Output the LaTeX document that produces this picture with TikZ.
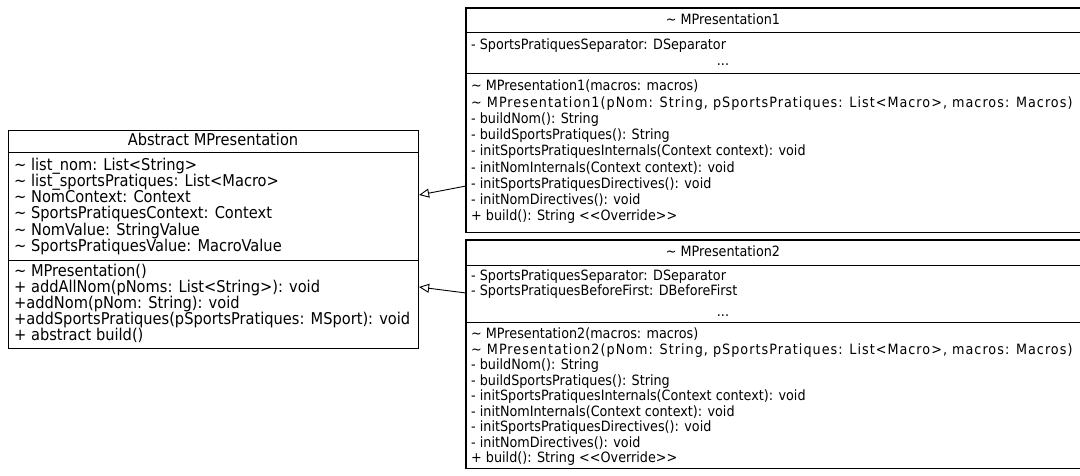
\documentclass[tikz,border=0pt]{standalone}
\usepackage{fontspec}
\setmainfont{DejaVu Sans Condensed}
\newfontfamily\widefont[LetterSpace=7.2]{DejaVu Sans Condensed}
\usetikzlibrary{arrows.meta}
\begin{document}
\begin{tikzpicture}[x=1pt,y=-1pt,
  box/.style={inner sep=0pt, anchor=north west},
  boxline/.style={draw=black, line width=1.1pt},
  sepline/.style={draw=black, line width=1pt},
  mem/.style={anchor=west, inner sep=0pt, font=\fontsize{16.25}{16}\selectfont, text height=12pt, text depth=3.5pt},
  ttl/.style={anchor=center, inner sep=0pt, font=\fontsize{16.25}{16}\selectfont, text height=12pt, text depth=3.5pt},
  rmem/.style={anchor=west, inner sep=0pt, font=\fontsize{14.2}{16}\selectfont, text height=10.7pt, text depth=3pt},
  rwide/.style={anchor=west, inner sep=0pt, font=\widefont\fontsize{14.2}{16}\selectfont, text height=10.7pt, text depth=3pt},
  rttl/.style={anchor=center, inner sep=0pt, font=\fontsize{14.2}{16}\selectfont, text height=10.7pt, text depth=3pt},
  gen/.style={-{Triangle[open,length=10pt,width=9pt]}, line width=0.9pt}]
\useasboundingbox (0,0) rectangle (1080,476);
\fill[white] (0,0) rectangle (1080,476);

% ---------- Abstract MPresentation ----------
\node[box, draw=black, line width=1.1pt, minimum width=410pt, minimum height=218pt] (abs) at (8,130) {};
\draw[sepline] (8,153) -- (418,153);
\draw[sepline] (8,260) -- (418,260);
\node[ttl] (absT) at (213,141) {Abstract MPresentation};
\node[mem] (a1) at (14,166) {\textasciitilde{} list\_nom: List<String>};
\node[mem] (a2) at (14,182) {\textasciitilde{} list\_sportsPratiques: List<Macro>};
\node[mem] (a3) at (14,198) {\textasciitilde{} NomContext: Context};
\node[mem] (a4) at (14,214) {\textasciitilde{} SportsPratiquesContext: Context};
\node[mem] (a5) at (14,231) {\textasciitilde{} NomValue: StringValue};
\node[mem] (a6) at (14,247) {\textasciitilde{} SportsPratiquesValue: MacroValue};
\node[mem] (am1) at (14,272) {\textasciitilde{} MPresentation()};
\node[mem] (am2) at (14,288) {+ addAllNom(pNoms: List<String>): void};
\node[mem] (am3) at (14,304) {+addNom(pNom: String): void};
\node[mem] (am4) at (14,320) {+addSportsPratiques(pSportsPratiques: MSport): void};
\node[mem] (am5) at (14,336) {+ abstract build()};

% ---------- MPresentation1 ----------
\node[box, minimum width=614pt, minimum height=224pt] (m1) at (466,8) {};
\draw[boxline] (m1.north east) -- (m1.north west) -- (m1.south west) -- (m1.south east);
\draw[sepline] (466,33) -- (1080,33);
\draw[sepline] (466,74) -- (1080,74);
\node[rttl] (m1T) at (723,20.5) {\textasciitilde{} MPresentation1};
\node[rmem] (b1) at (471,46) {- SportsPratiquesSeparator: DSeparator};
\node[rttl] (b2) at (723,62) {...};
\node[rmem] (bm1) at (471,87) {\textasciitilde{} MPresentation1(macros: macros)};
\node[rwide] (bm2) at (471,103.25) {\textasciitilde{} MPresentation1(pNom: String, pSportsPratiques: List<Macro>, macros: Macros)};
\node[rmem] (bm3) at (471,119.5) {- buildNom(): String};
\node[rmem] (bm4) at (471,135.75) {- buildSportsPratiques(): String};
\node[rmem] (bm5) at (471,152) {- initSportsPratiquesInternals(Context context): void};
\node[rmem] (bm6) at (471,168.25) {- initNomInternals(Context context): void};
\node[rmem] (bm7) at (471,184.5) {- initSportsPratiquesDirectives(): void};
\node[rmem] (bm8) at (471,200.75) {- initNomDirectives(): void};
\node[rmem] (bm9) at (471,217) {+ build(): String <{}<Override>{}>};

% ---------- MPresentation2 ----------
\node[box, minimum width=614pt, minimum height=228pt] (m2) at (466,240) {};
\draw[boxline] (m2.north east) -- (m2.north west) -- (m2.south west) -- (m2.south east);
\draw[sepline] (466,265) -- (1080,265);
\draw[sepline] (466,322) -- (1080,322);
\node[rttl] (m2T) at (723,252.5) {\textasciitilde{} MPresentation2};
\node[rmem] (c1) at (471,277) {- SportsPratiquesSeparator: DSeparator};
\node[rmem] (c2) at (471,292) {- SportsPratiquesBeforeFirst: DBeforeFirst};
\node[rttl] (c3) at (723,313) {...};
\node[rmem] (cm1) at (471,335) {\textasciitilde{} MPresentation2(macros: macros)};
\node[rwide] (cm2) at (471,350.5) {\textasciitilde{} MPresentation2(pNom: String, pSportsPratiques: List<Macro>, macros: Macros)};
\node[rmem] (cm3) at (471,366) {- buildNom(): String};
\node[rmem] (cm4) at (471,381.5) {- buildSportsPratiques(): String};
\node[rmem] (cm5) at (471,397) {- initSportsPratiquesInternals(Context context): void};
\node[rmem] (cm6) at (471,412.5) {- initNomInternals(Context context): void};
\node[rmem] (cm7) at (471,428) {- initSportsPratiquesDirectives(): void};
\node[rmem] (cm8) at (471,443.5) {- initNomDirectives(): void};
\node[rmem] (cm9) at (471,459) {+ build(): String <{}<Override>{}>};

% ---------- generalisations ----------
\draw[gen] (m1.west |- 0,186) -- (abs.east |- 0,195);
\draw[gen] (m2.west |- 0,293) -- (abs.east |- 0,287);
\end{tikzpicture}
\end{document}
